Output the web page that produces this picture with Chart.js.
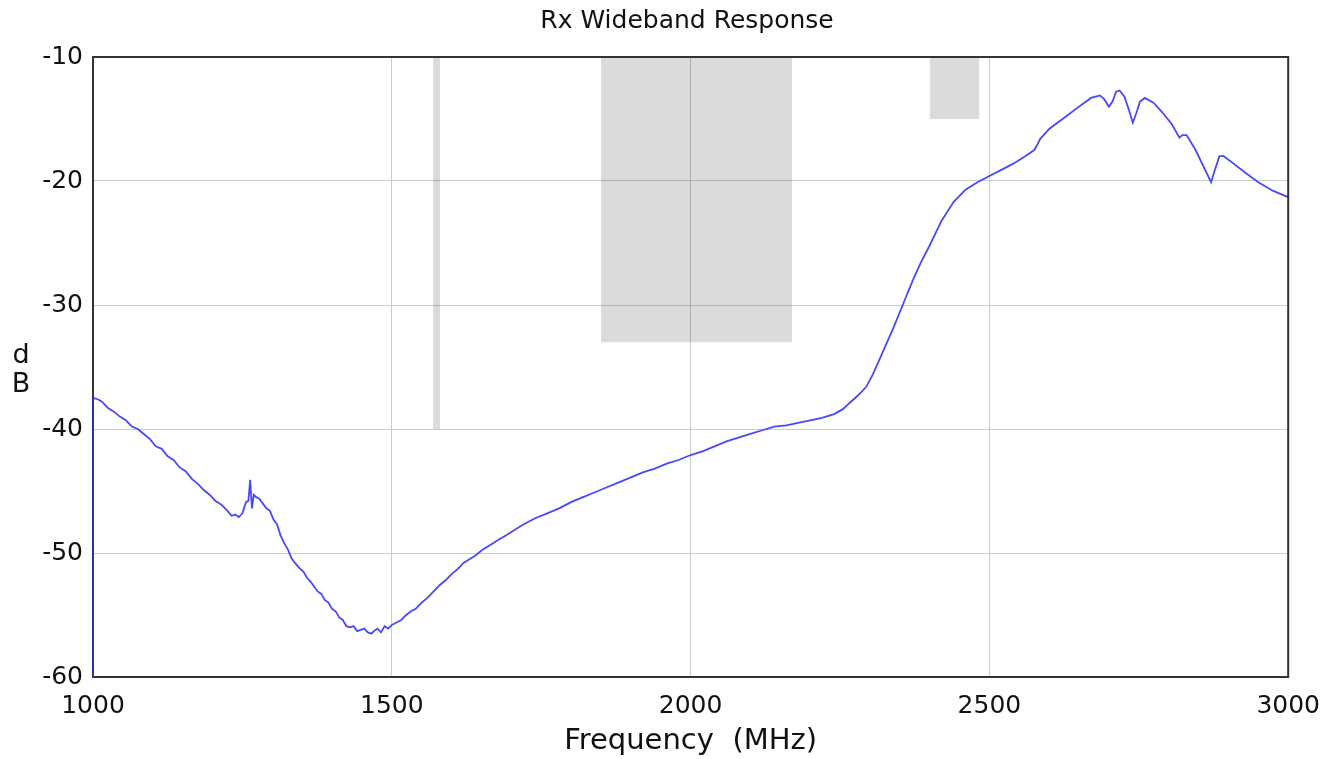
<!DOCTYPE html>
<html>
<head>
<meta charset="utf-8">
<script src="https://cdn.jsdelivr.net/npm/chart.js@4/dist/chart.umd.min.js"></script>
<style>
  html, body { margin:0; padding:0; background:#fff; }
  #wrap { width:1334px; height:759px; position:relative; }
</style>
</head>
<body>
<div id="wrap"><canvas id="c"></canvas></div>
<script>
// measured trace, frequency in MHz / level in dB
const freqs = [1000,1000,1008,1015,1025,1035,1045,1055,1065,1075,1085,1095,1105,1115,1125,1135,1145,1155,1165,1175,1185,1195,1205,1215,1225,1232,1238,1244,1250,1256,1260,1263,1266,1269,1273,1278,1284,1290,1296,1302,1308,1314,1320,1326,1332,1338,1345,1352,1358,1364,1370,1376,1382,1388,1394,1400,1406,1412,1418,1424,1430,1436,1442,1448,1454,1460,1466,1470,1476,1482,1488,1494,1500,1508,1516,1524,1532,1540,1550,1560,1570,1580,1590,1600,1610,1620,1630,1640,1650,1660,1670,1680,1690,1700,1720,1740,1760,1780,1800,1820,1840,1860,1880,1900,1920,1940,1960,1980,2000,2020,2040,2060,2080,2100,2120,2140,2160,2180,2200,2220,2240,2255,2266,2280,2294,2305,2316,2327,2338,2355,2372,2385,2400,2420,2440,2460,2480,2500,2520,2540,2560,2575,2580,2585,2600,2628,2650,2670,2685,2692,2700,2706,2712,2718,2726,2733,2740,2746,2752,2760,2775,2790,2805,2818,2823,2830,2845,2860,2871,2878,2885,2892,2906,2930,2950,2975,3000];
const levels = [-60,-37.5,-37.6,-37.8,-38.3,-38.6,-39.0,-39.3,-39.8,-40.0,-40.4,-40.8,-41.4,-41.6,-42.2,-42.5,-43.1,-43.4,-44.0,-44.4,-44.9,-45.3,-45.8,-46.1,-46.6,-47.0,-46.9,-47.1,-46.8,-45.9,-45.8,-44.1,-46.4,-45.3,-45.5,-45.6,-46.0,-46.4,-46.6,-47.3,-47.7,-48.6,-49.2,-49.7,-50.4,-50.8,-51.2,-51.5,-52.0,-52.3,-52.7,-53.1,-53.3,-53.8,-54.0,-54.5,-54.7,-55.2,-55.4,-55.9,-56.0,-55.9,-56.3,-56.2,-56.1,-56.4,-56.5,-56.3,-56.1,-56.4,-55.9,-56.1,-55.8,-55.6,-55.4,-55.0,-54.7,-54.5,-54.0,-53.6,-53.1,-52.6,-52.2,-51.7,-51.3,-50.8,-50.5,-50.2,-49.8,-49.5,-49.2,-48.9,-48.6,-48.3,-47.7,-47.2,-46.8,-46.4,-45.9,-45.5,-45.1,-44.7,-44.3,-43.9,-43.5,-43.2,-42.8,-42.5,-42.1,-41.8,-41.4,-41.0,-40.7,-40.4,-40.1,-39.8,-39.7,-39.5,-39.3,-39.1,-38.8,-38.4,-37.9,-37.3,-36.6,-35.6,-34.4,-33.2,-32.0,-30.0,-28.0,-26.6,-25.2,-23.2,-21.7,-20.7,-20.1,-19.6,-19.1,-18.6,-18.0,-17.5,-17.1,-16.6,-15.8,-14.8,-14.0,-13.3,-13.1,-13.4,-14.0,-13.6,-12.8,-12.7,-13.2,-14.2,-15.3,-14.5,-13.6,-13.3,-13.7,-14.5,-15.4,-16.5,-16.3,-16.3,-17.5,-19.0,-20.1,-19.0,-18.0,-18.0,-18.5,-19.4,-20.1,-20.8,-21.3];

// shaded bands (MHz start/end, dB floor, top is the axis max)
const bandStart = [1569, 1850, 2400];
const bandEnd   = [1581, 2170, 2483.5];
const bandFloor = [-40, -33, -15];

const xTicks = [1000, 1500, 2000, 2500, 3000];
const yTicks = [-60, -50, -40, -30, -20, -10];

const trace = freqs.map((f,i)=>({x:f, y:levels[i]}));
const bands = bandStart.map((s,i)=>({
  data:[{x:s,y:yTicks[yTicks.length-1]},{x:bandEnd[i],y:yTicks[yTicks.length-1]}],
  showLine:true, fill:{value:bandFloor[i]}, backgroundColor:'rgba(0,0,0,0.14)', borderColor:'rgba(0,0,0,0)', borderWidth:0, pointRadius:0, order:1
}));

const frame = {
  id:'frame',
  afterDraw(ch) {
    const a = ch.chartArea, c = ch.ctx;
    c.save();
    c.strokeStyle = '#333'; c.lineWidth = 2;
    c.strokeRect(a.left, a.top, a.right-a.left, a.bottom-a.top);
    // trace starts with a vertical rise on the left edge
    c.strokeStyle = '#3030d0'; c.lineWidth = 1.5;
    c.beginPath(); c.moveTo(a.left, a.bottom); c.lineTo(a.left, ch.scales.y.getPixelForValue(levels[1])); c.stroke();
    c.fillStyle = '#111'; c.textAlign = 'center'; c.textBaseline = 'middle';
    c.font = '25px "DejaVu Sans"';
    c.fillText('Rx Wideband Response', 687, 21);
    c.font = '27px "DejaVu Sans"';
    c.fillText('d', 21, 356);
    c.fillText('B', 21, 385);
    c.restore();
  }
};

new Chart(document.getElementById('c'), {
  type:'scatter',
  data:{ datasets:[
    { data:trace, showLine:true, borderColor:'#4848ff', borderWidth:1.8, pointRadius:0, tension:0, fill:false, order:0 },
    ...bands
  ]},
  options:{
    responsive:true, maintainAspectRatio:false, animation:false,
    layout:{ padding:{ left:0, right:42, top:57, bottom:0 } },
    plugins:{ legend:{display:false}, tooltip:{enabled:false}, title:{display:false} },
    scales:{
      x:{ type:'linear', min:1000, max:3000,
        afterBuildTicks(s){ s.ticks = xTicks.map(v=>({value:v})); },
        afterFit(s){ s.height = 82; },
        grid:{ color:'#cccccc', drawTicks:false }, border:{display:false},
        ticks:{ color:'#111', padding:14, maxRotation:0, font:{family:'DejaVu Sans', size:25}, callback:v=>String(v) },
        title:{ display:true, text:'Frequency  (MHz)', color:'#111', padding:{top:0,bottom:0}, font:{family:'DejaVu Sans', size:29} }
      },
      y:{ min:-60, max:-10,
        afterBuildTicks(s){ s.ticks = yTicks.map(v=>({value:v})); },
        afterFit(s){ s.width = 93; },
        grid:{ color:'#cccccc', drawTicks:false }, border:{display:false},
        ticks:{ color:'#111', padding:10, font:{family:'DejaVu Sans', size:25}, callback:v=>String(v) }
      }
    }
  },
  plugins:[frame]
});
</script>
</body>
</html>
